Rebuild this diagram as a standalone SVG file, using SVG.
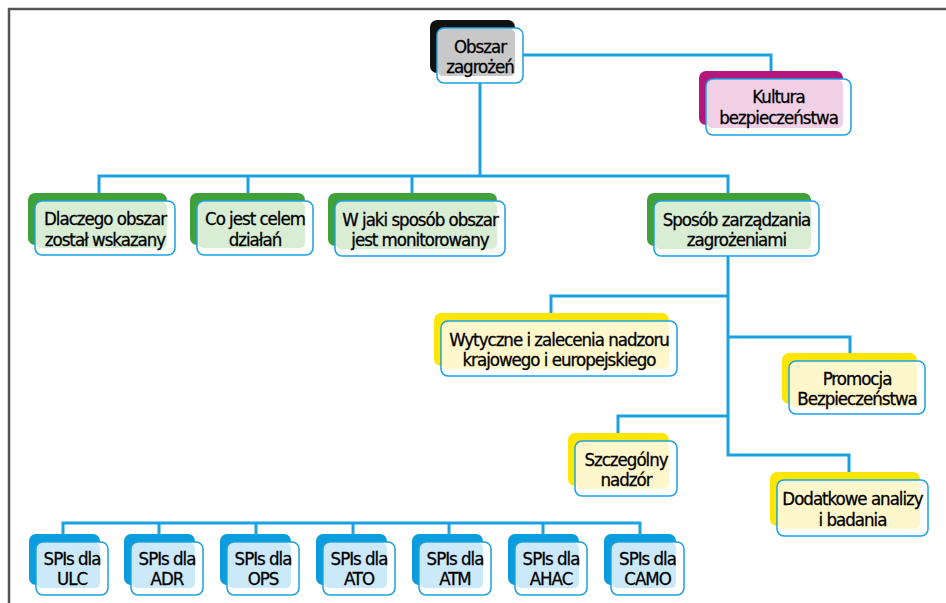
<svg xmlns="http://www.w3.org/2000/svg" width="946" height="603" viewBox="0 0 946 603">
<style>
.conn{fill:none;stroke:#1ba1e2;stroke-width:3}
.frame{fill:none;stroke:#555;stroke-width:2.5}
.ol{fill:none;stroke:#1ba1e2;stroke-width:1.5}
.wh{fill:#fff}
.t{font-family:"DejaVu Sans Condensed","Liberation Sans",Arial,sans-serif;font-size:18.5px;letter-spacing:-1px;fill:#000;stroke:#000;stroke-width:0.3;text-anchor:middle}
.sk{fill:#111}.fk{fill:#c8c8c8}
.sm{fill:#b3177e}.fm{fill:#f1d0e6}
.sg{fill:#40a03a}.fg{fill:#d9edd4}
.sy{fill:#ffe600}.fy{fill:#fef7cc}
.sb{fill:#0c9ddf}.fb{fill:#cbe9f8}
</style>
<rect width="946" height="603" fill="#fff"/>
<path class="frame" d="M9,603 V9 H946"/>
<g id="connectors">
<path class="conn" d="M523,55 H771 V71"/>
<path class="conn" d="M480,83 V176"/>
<path class="conn" d="M99,193 V176 H728 V193"/>
<path class="conn" d="M248,176 V193 M412,176 V193"/>
<path class="conn" d="M728,256 V455 H849 V472"/>
<path class="conn" d="M728,296 H551 V313"/>
<path class="conn" d="M728,337 H850 V353"/>
<path class="conn" d="M728,416 H618 V433"/>
<path class="conn" d="M63,534 V523 H640 V534 M159,523 V534 M256,523 V534 M353,523 V534 M449,523 V534 M543,523 V534"/>
</g>
<g id="obszar">
<rect class="sk" x="430" y="20" width="85" height="53" rx="7"/>
<rect class="wh" x="437" y="28" width="86" height="55" rx="7"/>
<rect class="fk" x="438" y="29" width="77" height="47" rx="5"/>
<rect class="ol" x="437" y="28" width="86" height="55" rx="7"/>
<text class="t" x="480" y="53">Obszar</text>
<text class="t" x="480" y="73">zagrożeń</text>
</g>
<g id="kultura">
<rect class="sm" x="699" y="71" width="144" height="54" rx="7"/>
<rect class="wh" x="706" y="79" width="145" height="56" rx="7"/>
<rect class="fm" x="707" y="80" width="136" height="48" rx="5"/>
<rect class="ol" x="706" y="79" width="145" height="56" rx="7"/>
<text class="t" x="778.5" y="103">Kultura</text>
<text class="t" x="778.5" y="124">bezpieczeństwa</text>
</g>
<g id="dlaczego">
<rect class="sg" x="28" y="193" width="139" height="52" rx="7"/>
<rect class="wh" x="35" y="201" width="140" height="54" rx="7"/>
<rect class="fg" x="36" y="202" width="131" height="46" rx="5"/>
<rect class="ol" x="35" y="201" width="140" height="54" rx="7"/>
<text class="t" x="105" y="225">Dlaczego obszar</text>
<text class="t" x="105" y="245.5">został wskazany</text>
</g>
<g id="cel">
<rect class="sg" x="190" y="193" width="115" height="52" rx="7"/>
<rect class="wh" x="197" y="201" width="116" height="54" rx="7"/>
<rect class="fg" x="198" y="202" width="107" height="46" rx="5"/>
<rect class="ol" x="197" y="201" width="116" height="54" rx="7"/>
<text class="t" x="255" y="225">Co jest celem</text>
<text class="t" x="255" y="245.5">działań</text>
</g>
<g id="monitorowany">
<rect class="sg" x="328" y="193" width="169" height="53" rx="7"/>
<rect class="wh" x="335" y="201" width="170" height="55" rx="7"/>
<rect class="fg" x="336" y="202" width="161" height="47" rx="5"/>
<rect class="ol" x="335" y="201" width="170" height="55" rx="7"/>
<text class="t" x="420" y="225.5">W jaki sposób obszar</text>
<text class="t" x="420" y="246">jest monitorowany</text>
</g>
<g id="sposob">
<rect class="sg" x="647" y="193" width="164" height="53" rx="7"/>
<rect class="wh" x="654" y="201" width="165" height="55" rx="7"/>
<rect class="fg" x="655" y="202" width="156" height="47" rx="5"/>
<rect class="ol" x="654" y="201" width="165" height="55" rx="7"/>
<text class="t" x="736.5" y="225.5">Sposób zarządzania</text>
<text class="t" x="736.5" y="246">zagrożeniami</text>
</g>
<g id="wytyczne">
<rect class="sy" x="434" y="313" width="235" height="53" rx="7"/>
<rect class="wh" x="441" y="321" width="236" height="55" rx="7"/>
<rect class="fy" x="442" y="322" width="227" height="47" rx="5"/>
<rect class="ol" x="441" y="321" width="236" height="55" rx="7"/>
<text class="t" x="559" y="345.5">Wytyczne i zalecenia nadzoru</text>
<text class="t" x="559" y="366">krajowego i europejskiego</text>
</g>
<g id="promocja">
<rect class="sy" x="782" y="353" width="135" height="51" rx="7"/>
<rect class="wh" x="789" y="361" width="136" height="53" rx="7"/>
<rect class="fy" x="790" y="362" width="127" height="45" rx="5"/>
<rect class="ol" x="789" y="361" width="136" height="53" rx="7"/>
<text class="t" x="857" y="384.5">Promocja</text>
<text class="t" x="857" y="405">Bezpieczeństwa</text>
</g>
<g id="szczegolny">
<rect class="sy" x="568" y="433" width="101" height="53" rx="7"/>
<rect class="wh" x="575" y="441" width="102" height="55" rx="7"/>
<rect class="fy" x="576" y="442" width="93" height="47" rx="5"/>
<rect class="ol" x="575" y="441" width="102" height="55" rx="7"/>
<text class="t" x="626" y="465.5">Szczególny</text>
<text class="t" x="626" y="486">nadzór</text>
</g>
<g id="dodatkowe">
<rect class="sy" x="770" y="472" width="150" height="54" rx="7"/>
<rect class="wh" x="777" y="480" width="151" height="56" rx="7"/>
<rect class="fy" x="778" y="481" width="142" height="48" rx="5"/>
<rect class="ol" x="777" y="480" width="151" height="56" rx="7"/>
<text class="t" x="852.5" y="505">Dodatkowe analizy</text>
<text class="t" x="852.5" y="525.5">i badania</text>
</g>
<g id="spi-ulc">
<rect class="sb" x="29" y="534" width="71" height="51" rx="7"/>
<rect class="wh" x="36" y="542" width="72" height="53" rx="7"/>
<rect class="fb" x="37" y="543" width="63" height="45" rx="5"/>
<rect class="ol" x="36" y="542" width="72" height="53" rx="7"/>
<text class="t" x="72" y="564.5">SPIs dla</text>
<text class="t" x="72" y="585">ULC</text>
</g>
<g id="spi-adr">
<rect class="sb" x="124" y="534" width="71" height="51" rx="7"/>
<rect class="wh" x="131" y="542" width="72" height="53" rx="7"/>
<rect class="fb" x="132" y="543" width="63" height="45" rx="5"/>
<rect class="ol" x="131" y="542" width="72" height="53" rx="7"/>
<text class="t" x="167" y="564.5">SPIs dla</text>
<text class="t" x="167" y="585">ADR</text>
</g>
<g id="spi-ops">
<rect class="sb" x="220" y="534" width="71" height="51" rx="7"/>
<rect class="wh" x="227" y="542" width="72" height="53" rx="7"/>
<rect class="fb" x="228" y="543" width="63" height="45" rx="5"/>
<rect class="ol" x="227" y="542" width="72" height="53" rx="7"/>
<text class="t" x="263" y="564.5">SPIs dla</text>
<text class="t" x="263" y="585">OPS</text>
</g>
<g id="spi-ato">
<rect class="sb" x="316" y="534" width="71" height="51" rx="7"/>
<rect class="wh" x="323" y="542" width="72" height="53" rx="7"/>
<rect class="fb" x="324" y="543" width="63" height="45" rx="5"/>
<rect class="ol" x="323" y="542" width="72" height="53" rx="7"/>
<text class="t" x="359" y="564.5">SPIs dla</text>
<text class="t" x="359" y="585">ATO</text>
</g>
<g id="spi-atm">
<rect class="sb" x="412" y="534" width="71" height="51" rx="7"/>
<rect class="wh" x="419" y="542" width="72" height="53" rx="7"/>
<rect class="fb" x="420" y="543" width="63" height="45" rx="5"/>
<rect class="ol" x="419" y="542" width="72" height="53" rx="7"/>
<text class="t" x="455" y="564.5">SPIs dla</text>
<text class="t" x="455" y="585">ATM</text>
</g>
<g id="spi-ahac">
<rect class="sb" x="508" y="534" width="71" height="51" rx="7"/>
<rect class="wh" x="515" y="542" width="72" height="53" rx="7"/>
<rect class="fb" x="516" y="543" width="63" height="45" rx="5"/>
<rect class="ol" x="515" y="542" width="72" height="53" rx="7"/>
<text class="t" x="551" y="564.5">SPIs dla</text>
<text class="t" x="551" y="585">AHAC</text>
</g>
<g id="spi-camo">
<rect class="sb" x="604" y="534" width="72" height="51" rx="7"/>
<rect class="wh" x="611" y="542" width="73" height="53" rx="7"/>
<rect class="fb" x="612" y="543" width="64" height="45" rx="5"/>
<rect class="ol" x="611" y="542" width="73" height="53" rx="7"/>
<text class="t" x="647.5" y="564.5">SPIs dla</text>
<text class="t" x="647.5" y="585">CAMO</text>
</g>
</svg>
